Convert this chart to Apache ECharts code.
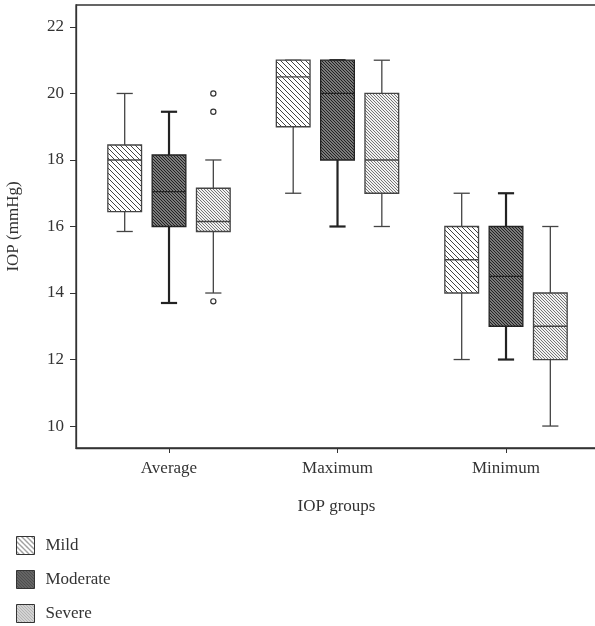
<!DOCTYPE html>
<html><head><meta charset="utf-8">
<script src="https://cdn.jsdelivr.net/npm/echarts@6/dist/echarts.min.js"></script>
<style>html,body{margin:0;padding:0;background:#fff}#c{width:595px;height:626px}</style>
</head><body><div id="c"></div>
<script>
var categories = ['Average', 'Maximum', 'Minimum'];
var seriesNames = ['Mild', 'Moderate', 'Severe'];
// [min, Q1, median, Q3, max] per category
var mild = [[15.85, 16.45, 18, 18.45, 20], [17, 19, 20.5, 21, 21], [12, 14, 15, 16, 17]];
var moderate = [[13.7, 16, 17.05, 18.15, 19.45], [16, 18, 20, 21, 21], [12, 13, 14.5, 16, 17]];
var severe = [[14, 15.85, 16.15, 17.15, 18], [16, 17, 18, 20, 21], [10, 12, 13, 14, 16]];
var severeOutliers = [[0, 20], [0, 19.45], [0, 13.75]];
var yTicks = [10, 12, 14, 16, 18, 20, 22];

function pattern(bg, fg, step, lw) {
  var c = document.createElement('canvas');
  var n = step * 4; c.width = n; c.height = n;
  var g = c.getContext('2d');
  g.fillStyle = bg; g.fillRect(0, 0, n, n);
  g.strokeStyle = fg; g.lineWidth = lw;
  for (var k = -n; k <= 2 * n; k += step) {
    g.beginPath(); g.moveTo(k, 0); g.lineTo(k + n, n); g.stroke();
  }
  return { image: c, repeat: 'repeat' };
}
var fills = [pattern('#ffffff', '#444', 5, 1), pattern('#7a7a7a', '#222', 3, 1), pattern('#f2f2f2', '#777', 3, 1)];
var edge = ['#444', '#222', '#444'];
var whiskerW = [1.3, 2.2, 1.3];
var allData = [mild, moderate, severe];

function makeSeries(si) {
  return {
    name: seriesNames[si], type: 'custom',
    itemStyle: { color: fills[si], borderColor: edge[si], borderWidth: 1 },
    data: allData[si].map(function (d, i) { return [i].concat(d); }),
    encode: { x: 0, y: [1, 2, 3, 4, 5] },
    renderItem: function (params, api) {
      var band = api.size([1, 0])[0];
      var cx = api.coord([api.value(0), 0])[0] + (si - 1) * band * 0.263;
      var w = band * 0.2, cap = band * 0.048;
      var p = [1, 2, 3, 4, 5].map(function (k) { return api.coord([api.value(0), api.value(k)])[1]; });
      var ls = { stroke: edge[si], lineWidth: whiskerW[si] };
      var bs = { stroke: edge[si], lineWidth: 1.3 };
      return { type: 'group', children: [
        { type: 'line', shape: { x1: cx, y1: p[0], x2: cx, y2: p[1] }, style: ls },
        { type: 'line', shape: { x1: cx, y1: p[3], x2: cx, y2: p[4] }, style: ls },
        { type: 'line', shape: { x1: cx - cap, y1: p[0], x2: cx + cap, y2: p[0] }, style: ls },
        { type: 'line', shape: { x1: cx - cap, y1: p[4], x2: cx + cap, y2: p[4] }, style: ls },
        { type: 'rect', shape: { x: cx - w / 2, y: p[3], width: w, height: p[1] - p[3] }, style: { fill: fills[si], stroke: edge[si], lineWidth: 1.3 } },
        { type: 'line', shape: { x1: cx - w / 2, y1: p[2], x2: cx + w / 2, y2: p[2] }, style: bs }
      ] };
    }
  };
}
var font = 'Liberation Serif';
var chart = echarts.init(document.getElementById('c'));
chart.setOption({
  animation: false,
  grid: { left: 76, top: 5, right: -2, bottom: 178, outerBoundsMode: 'none', containLabel: false, show: true, borderColor: '#333', borderWidth: 1.3, backgroundColor: 'transparent' },
  legend: {
    data: seriesNames, orient: 'vertical', left: 16, top: 536, height: 100, padding: 0, itemWidth: 18, itemHeight: 18, itemGap: 15,
    icon: 'rect', itemStyle: { borderColor: '#333', borderWidth: 1 },
    textStyle: { fontFamily: font, fontSize: 17, color: '#333', padding: [0, 0, 0, 6] }
  },
  xAxis: {
    type: 'value', min: -0.552, max: 2.54, name: 'IOP groups', nameLocation: 'middle', nameGap: 50,
    nameTextStyle: { fontFamily: font, fontSize: 17, color: '#333' },
    axisLine: { onZero: false, lineStyle: { color: '#333', width: 1.3 } },
    axisTick: { show: true, length: 5, lineStyle: { color: '#333' }, customValues: [0, 1, 2] },
    axisLabel: { fontFamily: font, fontSize: 17, color: '#333', margin: 12, customValues: [0, 1, 2],
      formatter: function (v) { return categories[Math.round(v)]; } },
    splitLine: { show: false }
  },
  yAxis: {
    type: 'value', min: 9.34, max: 22.66, interval: 2,
    name: 'IOP (mmHg)', nameLocation: 'middle', nameGap: 54,
    nameTextStyle: { fontFamily: font, fontSize: 17, color: '#333' },
    axisLine: { show: true, onZero: false, lineStyle: { color: '#333', width: 1.3 } },
    axisTick: { show: true, length: 6, lineStyle: { color: '#333' }, customValues: yTicks },
    axisLabel: { fontFamily: font, fontSize: 17, color: '#333', margin: 12, customValues: yTicks },
    splitLine: { show: false }
  },
  series: [makeSeries(0), makeSeries(1), makeSeries(2), {
    type: 'custom', silent: true, data: severeOutliers,
    renderItem: function (params, api) {
      var band = api.size([1, 0])[0];
      var pt = api.coord([api.value(0), api.value(1)]);
      return { type: 'circle', shape: { cx: pt[0] + band * 0.263, cy: pt[1], r: 2.6 }, style: { fill: '#fff', stroke: '#333', lineWidth: 1.2 } };
    }
  }]
});
</script></body></html>
